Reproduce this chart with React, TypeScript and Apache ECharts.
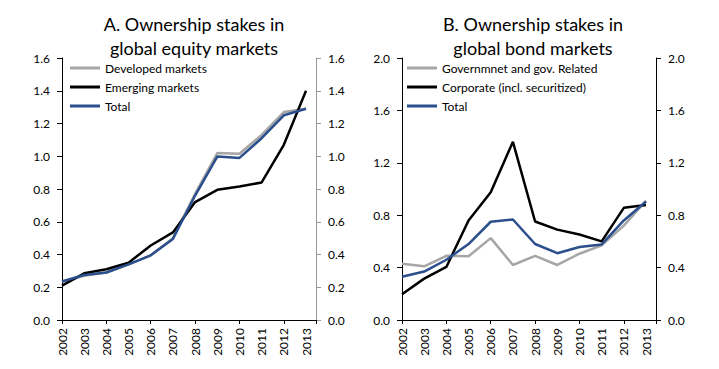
import React, { useEffect, useRef } from "react";
import * as echarts from "echarts";

const years = [2002, 2003, 2004, 2005, 2006, 2007, 2008, 2009, 2010, 2011, 2012, 2013];

// Panel A: equity
const developed = [0.235, 0.27, 0.29, 0.34, 0.395, 0.5, 0.77, 1.02, 1.015, 1.13, 1.27, 1.29];
const emerging = [0.21, 0.285, 0.31, 0.35, 0.455, 0.535, 0.72, 0.795, 0.815, 0.84, 1.07, 1.4];
const totalEquity = [0.235, 0.275, 0.29, 0.34, 0.395, 0.495, 0.76, 0.998, 0.99, 1.11, 1.25, 1.29];

// Panel B: bonds
const government = [0.43, 0.41, 0.49, 0.486, 0.625, 0.42, 0.49, 0.42, 0.506, 0.57, 0.72, 0.91];
const corporate = [0.197, 0.316, 0.405, 0.76, 0.975, 1.36, 0.752, 0.69, 0.653, 0.6, 0.856, 0.878];
const totalBond = [0.33, 0.37, 0.46, 0.58, 0.75, 0.767, 0.58, 0.51, 0.557, 0.577, 0.76, 0.905];

const titleA = "A. Ownership stakes in\nglobal equity markets";
const titleB = "B. Ownership stakes in\nglobal bond markets";
const legendA = ["Developed markets", "Emerging markets", "Total"];
const legendB = ["Governmnet and gov. Related", "Corporate (incl. securitized)", "Total"];

const FONT = "Lato";
const GREY = "#a6a6a6";
const BLACK = "#000000";
const BLUE = "#2b4e8c";

const pairs = (vals: number[]) => vals.map((v, i) => [years[i], v]);

export default function App() {
  const ref = useRef<HTMLDivElement>(null);
  useEffect(() => {
    if (!ref.current) return;
    const chart = echarts.init(ref.current, null, { renderer: "svg" });

    const xMain = (gridIndex: number) => ({
      type: "value",
      gridIndex,
      min: 2002,
      max: 2013.45,
      interval: 1,
      axisLine: { show: true, lineStyle: { color: BLACK, width: 1 } },
      axisTick: { show: false },
      splitLine: { show: false },
      axisLabel: {
        rotate: 90,
        margin: 8,
        fontFamily: FONT,
        fontSize: 12,
        color: BLACK,
        showMaxLabel: false,
        formatter: (v: number) => (Number.isInteger(v) ? String(v) : ""),
      },
    });
    const xTicks = (gridIndex: number) => ({
      type: "value",
      gridIndex,
      min: 2002,
      max: 2013.45,
      interval: 2,
      position: "bottom",
      axisLine: { show: false },
      axisTick: { show: true, length: 4, lineStyle: { color: BLACK } },
      axisLabel: { show: false },
      splitLine: { show: false },
    });
    const yAx = (gridIndex: number, position: string, max: number, interval: number, lineColor: string) => ({
      type: "value",
      gridIndex,
      position,
      min: 0,
      max,
      interval,
      axisLine: { show: true, lineStyle: { color: lineColor, width: 1 } },
      axisTick: { show: true, length: 5, lineStyle: { color: lineColor } },
      splitLine: { show: false },
      axisLabel: {
        margin: 12,
        fontFamily: FONT,
        fontSize: 12,
        color: BLACK,
        formatter: (v: number) => v.toFixed(1),
      },
    });
    const line = (name: string, vals: number[], color: string, xi: number, yi: number) => ({
      type: "line",
      name,
      xAxisIndex: xi,
      yAxisIndex: yi,
      data: pairs(vals),
      showSymbol: false,
      symbol: "none",
      lineStyle: { color, width: 2.5 },
      itemStyle: { color },
    });
    const legend = (left: number, data: string[]) => ({
      orient: "vertical",
      left,
      top: 61,
      padding: 0,
      itemGap: 5,
      itemWidth: 30,
      itemHeight: 3,
      icon: "rect",
      data,
      textStyle: { fontFamily: FONT, fontSize: 12, color: BLACK, lineHeight: 14 },
    });

    chart.setOption({
      animation: false,
      backgroundColor: "#ffffff",
      title: [
        {
          text: titleA,
          left: 189,
          top: 7,
          textAlign: "center",
          textStyle: { fontFamily: FONT, fontSize: 18, fontWeight: "normal", color: BLACK, lineHeight: 24 },
        },
        {
          text: titleB,
          left: 528,
          top: 7,
          textAlign: "center",
          textStyle: { fontFamily: FONT, fontSize: 18, fontWeight: "normal", color: BLACK, lineHeight: 24 },
        },
      ],
      legend: [legend(70, legendA), legend(407, legendB)],
      grid: [
        { left: 62, right: 403, top: 58, bottom: 49, containLabel: false },
        { left: 402, right: 63, top: 58, bottom: 49, containLabel: false },
      ],
      xAxis: [xMain(0), xTicks(0), xMain(1), xTicks(1)],
      yAxis: [
        yAx(0, "left", 1.6, 0.2, BLACK),
        yAx(0, "right", 1.6, 0.2, "#999999"),
        yAx(1, "left", 2.0, 0.4, BLACK),
        yAx(1, "right", 2.0, 0.4, BLACK),
      ],
      series: [
        line(legendA[0], developed, GREY, 0, 0),
        line(legendA[1], emerging, BLACK, 0, 0),
        line(legendA[2], totalEquity, BLUE, 0, 0),
        line(legendB[0], government, GREY, 2, 2),
        line(legendB[1], corporate, BLACK, 2, 2),
        line(legendB[2], totalBond, BLUE, 2, 2),
      ],
    });
    return () => chart.dispose();
  }, []);
  return <div ref={ref} style={{ width: 719, height: 369, position: "absolute", left: 0, top: 0 }} />;
}
